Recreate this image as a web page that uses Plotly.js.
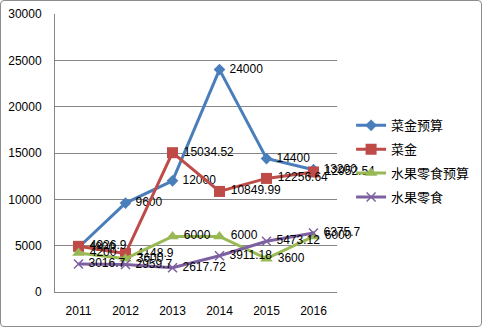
<!DOCTYPE html>
<html><head><meta charset="utf-8">
<script src="https://cdn.plot.ly/plotly-3.0.1.min.js"></script>
<style>
body{margin:0;padding:0;background:#fff;}
#wrap{position:relative;width:482px;height:327px;}
#chart{width:482px;height:327px;}
#border{position:absolute;left:0;top:0;width:480px;height:325px;border:1px solid #8c8c8c;border-radius:4px;pointer-events:none;}
</style></head>
<body>
<div id="wrap"><div id="chart"></div><div id="border"></div></div>
<script>
const years = ['2011','2012','2013','2014','2015','2016'];
const caiJinBudget = [4800, 9600, 12000, 24000, 14400, 13200];
const caiJin = [4926.9, 4148.9, 15034.52, 10849.99, 12256.64, 12952.54];
const fruitBudget = [4200, 3600, 6000, 6000, 3600, 6000];
const fruit = [3016.7, 2959.7, 2617.72, 3911.18, 5473.12, 6375.7];
const names = ['菜金预算', '菜金', '水果零食预算', '水果零食'];

const colors = ['#4A7EBB', '#BE4B48', '#98B954', '#7D60A0'];
const symbols = ['diamond', 'square', 'triangle-up', 'x-thin-open'];
const sizes = [9, 11, 11, 9];
const series = [caiJinBudget, caiJin, fruitBudget, fruit];

const traces = series.map((vals, i) => ({
  type: 'scatter', mode: 'lines+markers+text',
  x: years, y: vals, name: names[i], legendgroup: 'g' + i,
  text: vals.map(v => ' ' + String(v)),
  textposition: 'middle right',
  textfont: {family: 'Liberation Sans, Arial, sans-serif', size: 12, color: '#000'},
  line: {color: colors[i], width: 3},
  marker: {symbol: symbols[i], size: sizes[i], color: colors[i], line: {color: colors[i], width: i === 3 ? 1.5 : 0}},
  cliponaxis: false
}));

const layout = {
  width: 482, height: 327,
  margin: {l: 55, r: 145, t: 14, b: 35, autoexpand: false},
  paper_bgcolor: '#fff', plot_bgcolor: '#fff',
  font: {family: 'Liberation Sans, Arial, sans-serif', size: 12, color: '#000'},
  xaxis: {type: 'category', showgrid: false, showline: true, linecolor: '#868686', linewidth: 1,
          ticks: '', ticklabelstandoff: 8, range: [-0.5, 5.5], fixedrange: true, zeroline: false},
  yaxis: {range: [0, 30000], dtick: 5000, tickformat: 'd', showgrid: true, gridcolor: '#868686', gridwidth: 1,
          showline: true, linecolor: '#868686', ticks: '', zeroline: false, ticklabelstandoff: 10},
  legend: {x: 1.05, xanchor: 'left', y: 0.47, yanchor: 'middle', tracegroupgap: 4,
           font: {family: 'Noto Sans CJK SC, sans-serif', size: 13, color: '#000'},
           bgcolor: 'rgba(0,0,0,0)'},
  showlegend: true
};
Plotly.newPlot('chart', traces, layout, {displayModeBar: false, staticPlot: true});
</script>
</body></html>
